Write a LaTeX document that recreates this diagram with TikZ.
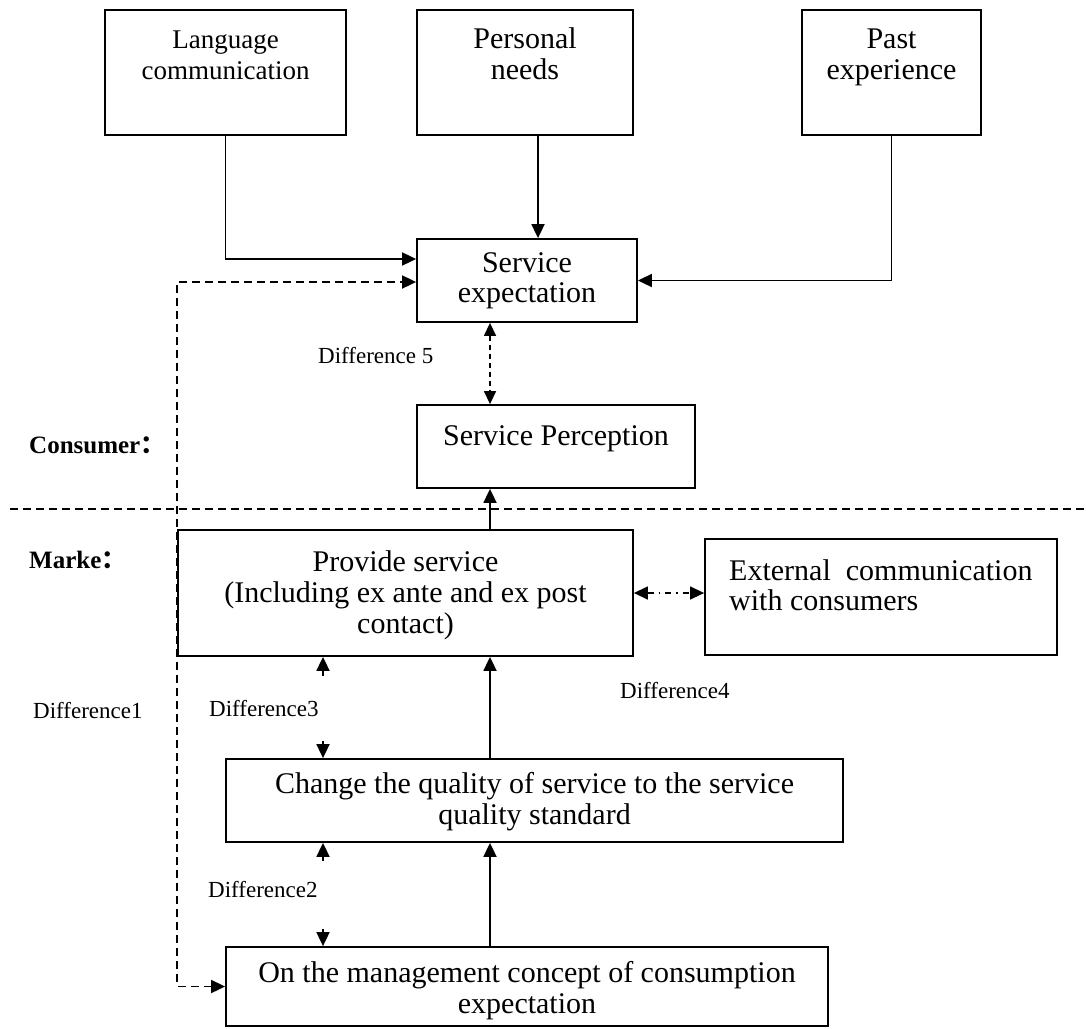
\documentclass[tikz,border=0pt]{standalone}
\usepackage{fontspec}
\setmainfont{Liberation Serif}
\newfontfamily\cjk{Noto Sans CJK SC}
\usetikzlibrary{arrows.meta}
\begin{document}
\begin{tikzpicture}[x=1pt,y=-1pt,
  box/.style={draw, line width=1.8pt, inner sep=0pt},
  t/.style={font=\fontsize{30}{31}\selectfont, inner sep=0pt, anchor=base},
  ts/.style={font=\fontsize{27}{28}\selectfont, inner sep=0pt, anchor=base},
  lab/.style={font=\fontsize{23}{24}\selectfont, inner sep=0pt, anchor=base west},
  side/.style={font=\bfseries\fontsize{25}{26}\selectfont, inner sep=0pt, anchor=base west},
  tip/.style={Triangle[length=14pt,width=13pt]},
  arr/.style={line width=1.8pt, -{Triangle[length=14pt,width=13pt]}},
  darr/.style={line width=1.8pt, dash pattern=on 8pt off 5pt, {Triangle[length=14pt,width=13pt]}-{Triangle[length=14pt,width=13pt]}},
  fdarr/.style={line width=1.4pt, dash pattern=on 5pt off 4pt, {Triangle[length=13pt,width=12pt]}-{Triangle[length=13pt,width=12pt]}},
  ddarr/.style={line width=1.4pt, dash pattern=on 6pt off 5pt on 1.5pt off 5pt, {Triangle[length=14pt,width=13pt]}-{Triangle[length=14pt,width=13pt]}},
]
\useasboundingbox (0,0) rectangle (1086,1028);

% boxes
\node[box, minimum width=241pt, minimum height=125pt] (lang) at (225.5,72.5) {};
\node[box, minimum width=216pt, minimum height=125pt] (pers) at (525,72.5) {};
\node[box, minimum width=179pt, minimum height=125pt] (past) at (891.5,72.5) {};
\node[box, minimum width=220pt, minimum height=83pt] (sexp) at (527,280.5) {};
\node[box, minimum width=278pt, minimum height=83pt] (sper) at (556,446.5) {};
\node[box, minimum width=455pt, minimum height=126pt] (prov) at (405.5,593) {};
\node[box, minimum width=352pt, minimum height=116pt] (ext) at (881,597) {};
\node[box, minimum width=617pt, minimum height=83pt] (chg) at (534.5,800.5) {};
\node[box, minimum width=602pt, minimum height=79pt] (mgmt) at (527,986.5) {};

% box texts
\node[ts] (lang1) at (225.5,48) {Language};
\node[ts] (lang2) at (225.5,79) {communication};
\node[t] (pers1) at (525,48) {Personal};
\node[t] (pers2) at (525,79) {needs};
\node[t] (past1) at (891.5,48) {Past};
\node[t] (past2) at (891.5,79) {experience};
\node[t] (sexp1) at (527,272) {Service};
\node[t] (sexp2) at (527,302) {expectation};
\node[t] (sper1) at (556,445) {Service Perception};
\node[t] (prov1) at (405.5,571) {Provide service};
\node[t] (prov2) at (405.5,602) {(Including ex ante and ex post};
\node[t] (prov3) at (405.5,633) {contact)};
\node[t, anchor=base west] (ext1) at (729,580) {External\ \ communication};
\node[t, anchor=base west] (ext2) at (729,610) {with consumers};
\node[t] (chg1) at (534.5,793) {Change the quality of service to the service};
\node[t] (chg2) at (534.5,824) {quality standard};
\node[t] (mgmt1) at (527,982) {On the management concept of consumption};
\node[t] (mgmt2) at (527,1013) {expectation};

% side labels
\node[side] (cons) at (29,453) {Consumer{\cjk ：}};
\node[side] (mark) at (29,568) {Marke{\cjk ：}};
\node[lab] (d5) at (318,363) {Difference 5};
\node[lab] (d1) at (33,718) {Difference1};
\node[lab] (d3) at (209,716) {Difference3};
\node[lab] (d4) at (620,698) {Difference4};
\node[lab] (d2) at (208,897) {Difference2};

% divider
\draw[line width=1.8pt, dash pattern=on 8pt off 5pt] (10,509) -- (1086,509);

% helper x positions
\coordinate (ax) at (490,0);
\coordinate (dx) at (323,0);

% connectors
\draw[arr] (lang.south) |- ([yshift=21.5pt]sexp.west);
\draw[arr] ([xshift=13pt]pers.south) -- ([xshift=13pt]pers.south |- sexp.north);
\draw[arr] (past.south) |- (sexp.east);
\draw[darr] (mgmt.west) -| (prov.west) |- ([yshift=-1.5pt]sexp.west);
\draw[fdarr] (sexp.south -| ax) -- (sper.north -| ax);
\draw[arr] (prov.north -| ax) -- (sper.south -| ax);
\draw[ddarr] (prov.east) -- (prov.east -| ext.west);
\draw[arr] (chg.north -| ax) -- (prov.south -| ax);
\draw[arr] (mgmt.north -| ax) -- (chg.south -| ax);

% difference stubs
\draw[arr] ([yshift=-19pt]prov.south -| dx) -- (prov.south -| dx);
\draw[arr] ([yshift=17pt]chg.north -| dx) -- (chg.north -| dx);
\draw[arr] ([yshift=-18pt]chg.south -| dx) -- (chg.south -| dx);
\draw[arr] ([yshift=17pt]mgmt.north -| dx) -- (mgmt.north -| dx);
\end{tikzpicture}
\end{document}
